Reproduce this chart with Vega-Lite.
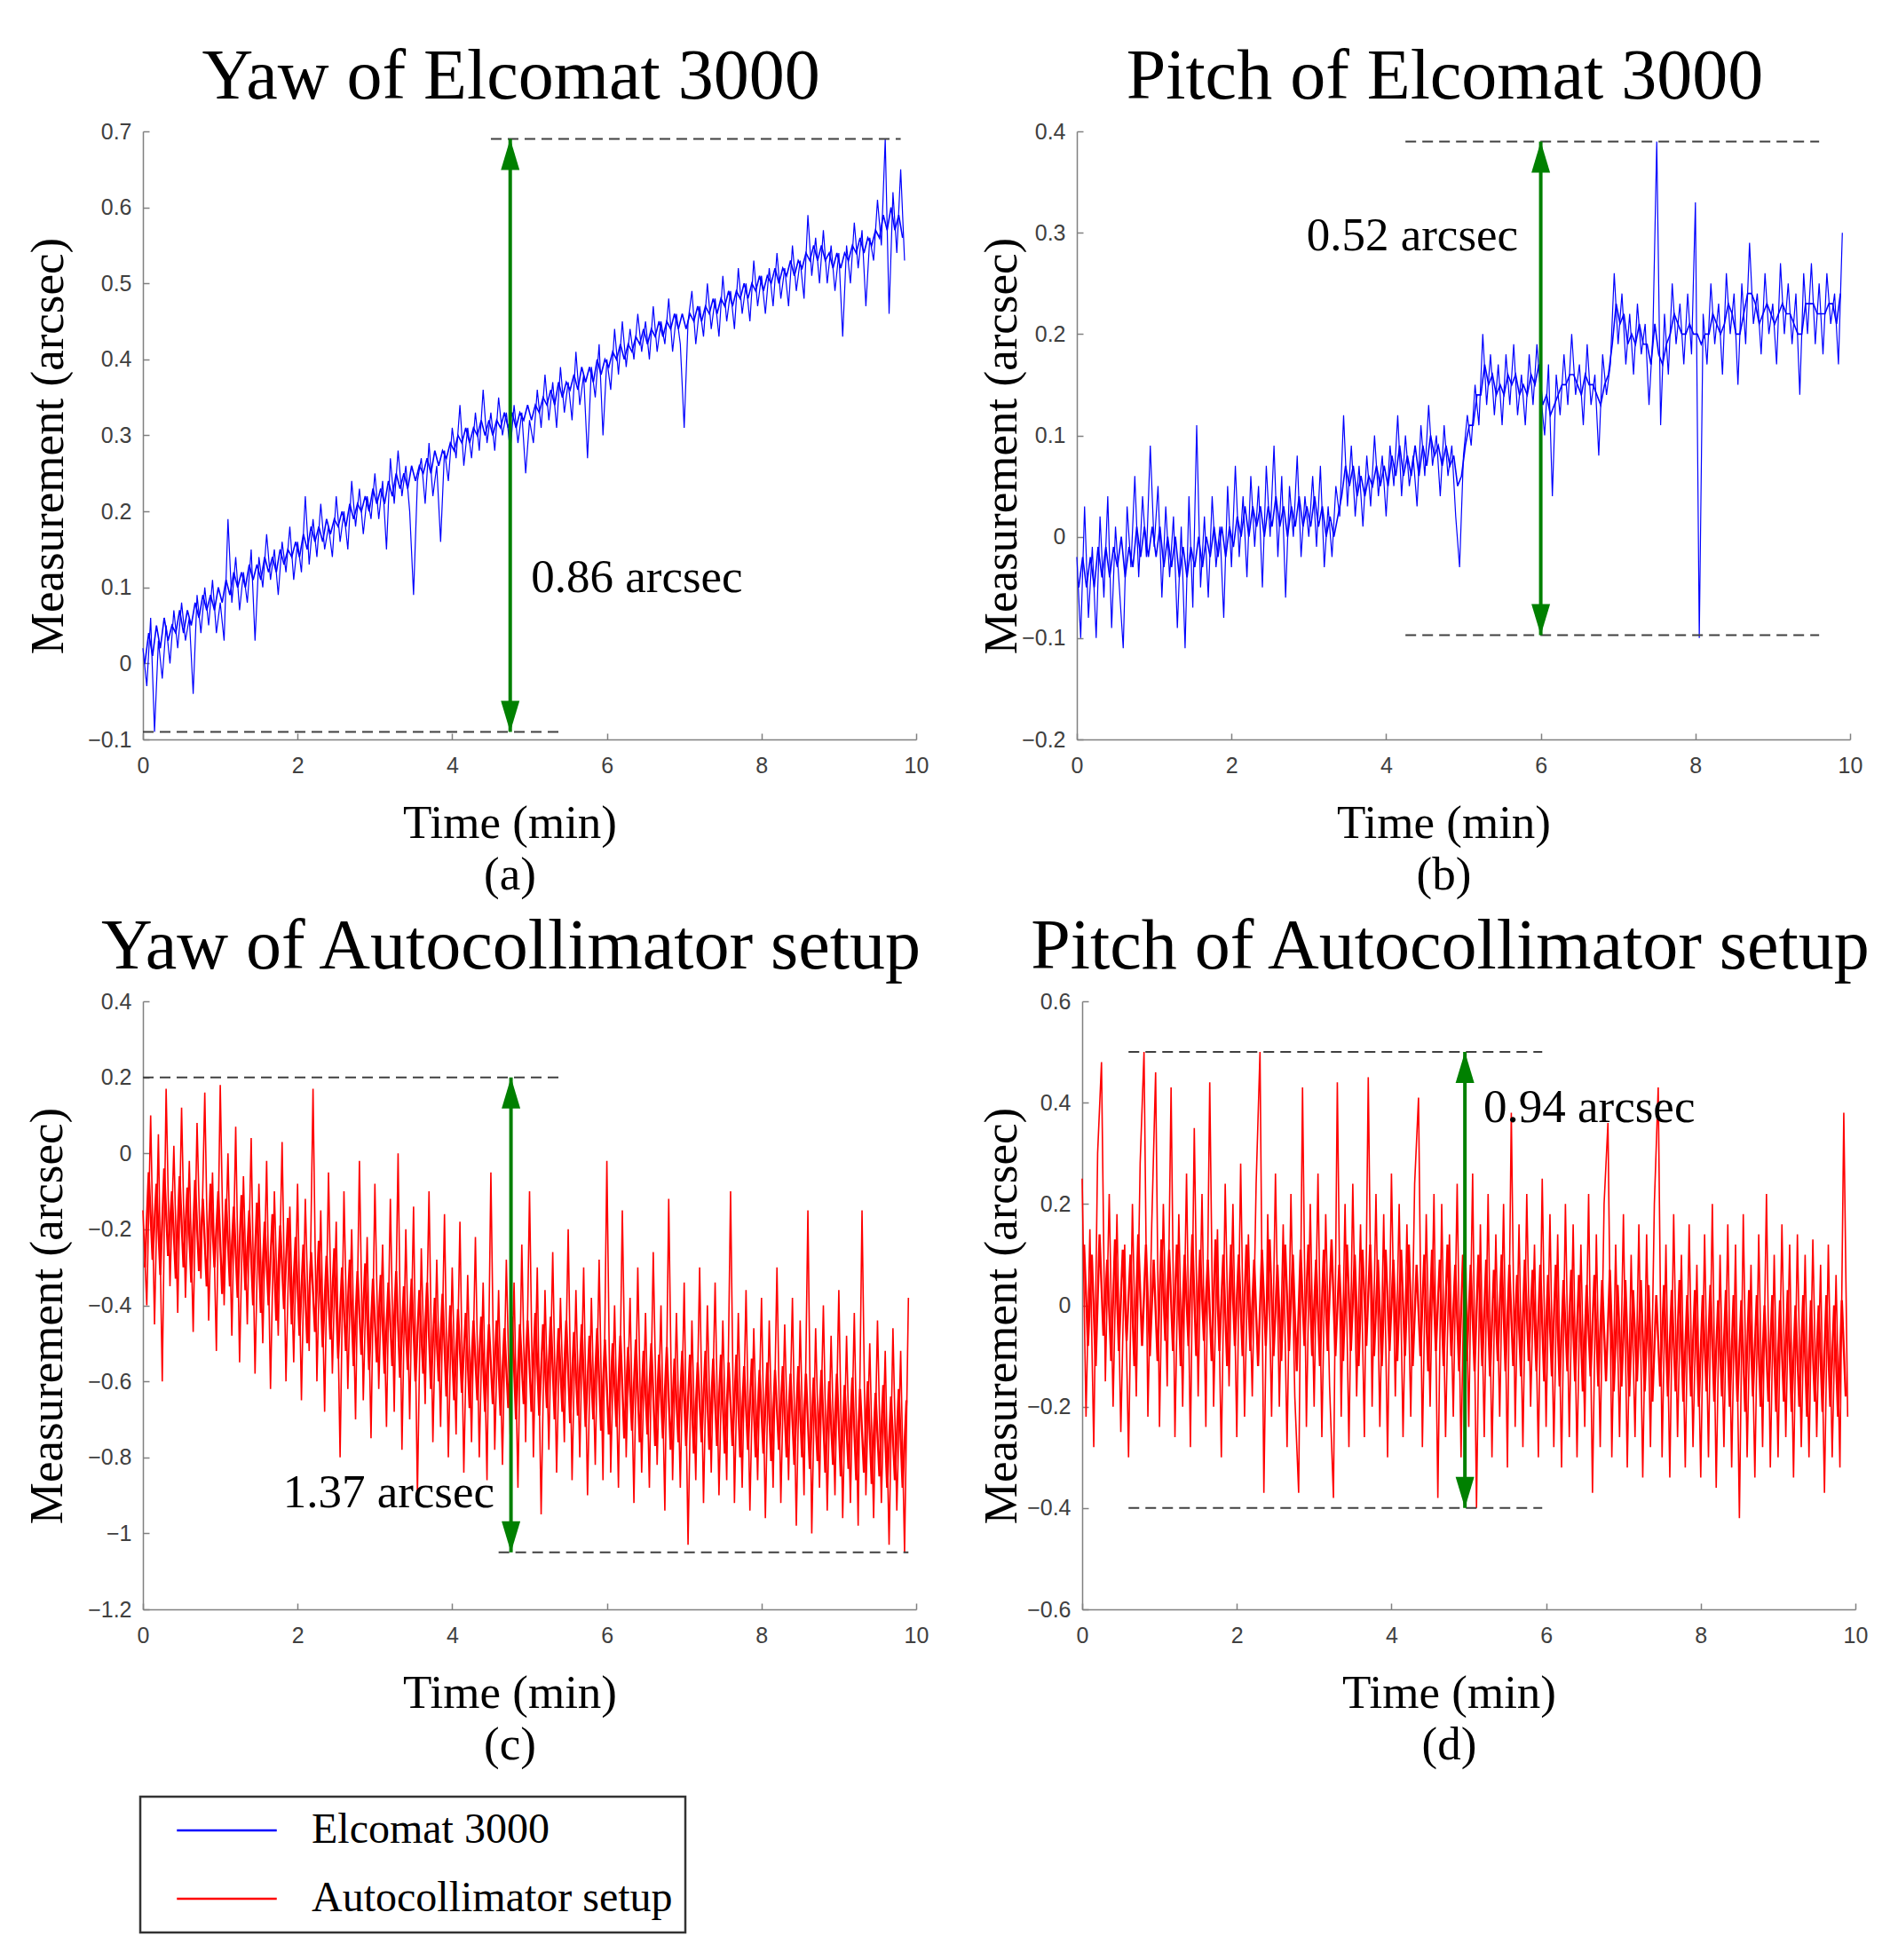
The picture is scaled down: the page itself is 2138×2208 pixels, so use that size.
{
"$schema":"https://vega.github.io/schema/vega-lite/v6.json",
"background":"white",
"padding":{"left":27,"top":47,"right":5,"bottom":5},
"datasets":{
"a":[{"t":0,"v":0.02},{"t":0.05,"v":-0.03},{"t":0.1,"v":0.06},{"t":0.15,"v":-0.09},{"t":0.2,"v":0.03},{"t":0.25,"v":-0.02},{"t":0.3,"v":0.05},{"t":0.35,"v":0.0},{"t":0.4,"v":0.07},{"t":0.45,"v":0.02},{"t":0.5,"v":0.08},{"t":0.55,"v":0.03},{"t":0.6,"v":0.06},{"t":0.65,"v":-0.04},{"t":0.7,"v":0.09},{"t":0.75,"v":0.04},{"t":0.8,"v":0.1},{"t":0.85,"v":0.05},{"t":0.9,"v":0.11},{"t":0.95,"v":0.04},{"t":1,"v":0.08},{"t":1.05,"v":0.03},{"t":1.1,"v":0.19},{"t":1.15,"v":0.08},{"t":1.2,"v":0.14},{"t":1.25,"v":0.07},{"t":1.3,"v":0.12},{"t":1.35,"v":0.08},{"t":1.4,"v":0.15},{"t":1.45,"v":0.03},{"t":1.5,"v":0.14},{"t":1.55,"v":0.1},{"t":1.6,"v":0.17},{"t":1.65,"v":0.11},{"t":1.7,"v":0.15},{"t":1.75,"v":0.09},{"t":1.8,"v":0.16},{"t":1.85,"v":0.12},{"t":1.9,"v":0.18},{"t":1.95,"v":0.11},{"t":2,"v":0.16},{"t":2.05,"v":0.12},{"t":2.1,"v":0.22},{"t":2.15,"v":0.13},{"t":2.2,"v":0.19},{"t":2.25,"v":0.14},{"t":2.3,"v":0.21},{"t":2.35,"v":0.15},{"t":2.4,"v":0.18},{"t":2.45,"v":0.14},{"t":2.5,"v":0.22},{"t":2.55,"v":0.16},{"t":2.6,"v":0.2},{"t":2.65,"v":0.15},{"t":2.7,"v":0.24},{"t":2.75,"v":0.18},{"t":2.8,"v":0.23},{"t":2.85,"v":0.17},{"t":2.9,"v":0.22},{"t":2.95,"v":0.19},{"t":3,"v":0.25},{"t":3.05,"v":0.19},{"t":3.1,"v":0.24},{"t":3.15,"v":0.15},{"t":3.2,"v":0.27},{"t":3.25,"v":0.21},{"t":3.3,"v":0.28},{"t":3.35,"v":0.22},{"t":3.4,"v":0.26},{"t":3.45,"v":0.2},{"t":3.5,"v":0.09},{"t":3.55,"v":0.24},{"t":3.6,"v":0.27},{"t":3.65,"v":0.21},{"t":3.7,"v":0.29},{"t":3.75,"v":0.22},{"t":3.8,"v":0.26},{"t":3.85,"v":0.16},{"t":3.9,"v":0.28},{"t":3.95,"v":0.24},{"t":4,"v":0.31},{"t":4.05,"v":0.27},{"t":4.1,"v":0.34},{"t":4.15,"v":0.26},{"t":4.2,"v":0.31},{"t":4.25,"v":0.27},{"t":4.3,"v":0.33},{"t":4.35,"v":0.28},{"t":4.4,"v":0.36},{"t":4.45,"v":0.29},{"t":4.5,"v":0.33},{"t":4.55,"v":0.28},{"t":4.6,"v":0.35},{"t":4.65,"v":0.3},{"t":4.7,"v":0.33},{"t":4.75,"v":0.28},{"t":4.8,"v":0.34},{"t":4.85,"v":0.29},{"t":4.9,"v":0.33},{"t":4.95,"v":0.25},{"t":5,"v":0.32},{"t":5.05,"v":0.29},{"t":5.1,"v":0.36},{"t":5.15,"v":0.31},{"t":5.2,"v":0.38},{"t":5.25,"v":0.32},{"t":5.3,"v":0.37},{"t":5.35,"v":0.31},{"t":5.4,"v":0.39},{"t":5.45,"v":0.33},{"t":5.5,"v":0.37},{"t":5.55,"v":0.32},{"t":5.6,"v":0.41},{"t":5.65,"v":0.34},{"t":5.7,"v":0.38},{"t":5.75,"v":0.27},{"t":5.8,"v":0.39},{"t":5.85,"v":0.35},{"t":5.9,"v":0.42},{"t":5.95,"v":0.3},{"t":6,"v":0.4},{"t":6.05,"v":0.36},{"t":6.1,"v":0.44},{"t":6.15,"v":0.38},{"t":6.2,"v":0.45},{"t":6.25,"v":0.39},{"t":6.3,"v":0.44},{"t":6.35,"v":0.4},{"t":6.4,"v":0.46},{"t":6.45,"v":0.41},{"t":6.5,"v":0.45},{"t":6.55,"v":0.4},{"t":6.6,"v":0.47},{"t":6.65,"v":0.41},{"t":6.7,"v":0.45},{"t":6.75,"v":0.42},{"t":6.8,"v":0.48},{"t":6.85,"v":0.41},{"t":6.9,"v":0.46},{"t":6.95,"v":0.42},{"t":7,"v":0.31},{"t":7.05,"v":0.45},{"t":7.1,"v":0.49},{"t":7.15,"v":0.42},{"t":7.2,"v":0.47},{"t":7.25,"v":0.43},{"t":7.3,"v":0.5},{"t":7.35,"v":0.44},{"t":7.4,"v":0.48},{"t":7.45,"v":0.43},{"t":7.5,"v":0.51},{"t":7.55,"v":0.45},{"t":7.6,"v":0.49},{"t":7.65,"v":0.44},{"t":7.7,"v":0.52},{"t":7.75,"v":0.46},{"t":7.8,"v":0.5},{"t":7.85,"v":0.45},{"t":7.9,"v":0.53},{"t":7.95,"v":0.47},{"t":8,"v":0.51},{"t":8.05,"v":0.46},{"t":8.1,"v":0.52},{"t":8.15,"v":0.47},{"t":8.2,"v":0.54},{"t":8.25,"v":0.48},{"t":8.3,"v":0.52},{"t":8.35,"v":0.47},{"t":8.4,"v":0.55},{"t":8.45,"v":0.49},{"t":8.5,"v":0.53},{"t":8.55,"v":0.48},{"t":8.6,"v":0.59},{"t":8.65,"v":0.51},{"t":8.7,"v":0.56},{"t":8.75,"v":0.5},{"t":8.8,"v":0.57},{"t":8.85,"v":0.5},{"t":8.9,"v":0.55},{"t":8.95,"v":0.49},{"t":9,"v":0.54},{"t":9.05,"v":0.43},{"t":9.1,"v":0.55},{"t":9.15,"v":0.5},{"t":9.2,"v":0.58},{"t":9.25,"v":0.52},{"t":9.3,"v":0.57},{"t":9.35,"v":0.47},{"t":9.4,"v":0.56},{"t":9.45,"v":0.53},{"t":9.5,"v":0.61},{"t":9.55,"v":0.55},{"t":9.6,"v":0.69},{"t":9.65,"v":0.46},{"t":9.7,"v":0.62},{"t":9.75,"v":0.54},{"t":9.8,"v":0.65},{"t":9.85,"v":0.53}],
"a2":[{"t":0.025,"v":0.0},{"t":0.075,"v":0.04},{"t":0.125,"v":0.01},{"t":0.175,"v":0.05},{"t":0.225,"v":0.02},{"t":0.275,"v":0.06},{"t":0.325,"v":0.03},{"t":0.375,"v":0.05},{"t":0.425,"v":0.04},{"t":0.475,"v":0.07},{"t":0.525,"v":0.04},{"t":0.575,"v":0.07},{"t":0.625,"v":0.05},{"t":0.675,"v":0.08},{"t":0.725,"v":0.06},{"t":0.775,"v":0.09},{"t":0.825,"v":0.07},{"t":0.875,"v":0.09},{"t":0.925,"v":0.07},{"t":0.975,"v":0.1},{"t":1.025,"v":0.08},{"t":1.075,"v":0.11},{"t":1.125,"v":0.09},{"t":1.175,"v":0.12},{"t":1.225,"v":0.1},{"t":1.275,"v":0.12},{"t":1.325,"v":0.1},{"t":1.375,"v":0.13},{"t":1.425,"v":0.11},{"t":1.475,"v":0.13},{"t":1.525,"v":0.11},{"t":1.575,"v":0.14},{"t":1.625,"v":0.12},{"t":1.675,"v":0.14},{"t":1.725,"v":0.12},{"t":1.775,"v":0.15},{"t":1.825,"v":0.13},{"t":1.875,"v":0.15},{"t":1.925,"v":0.14},{"t":1.975,"v":0.16},{"t":2.025,"v":0.14},{"t":2.075,"v":0.17},{"t":2.125,"v":0.15},{"t":2.175,"v":0.18},{"t":2.225,"v":0.16},{"t":2.275,"v":0.18},{"t":2.325,"v":0.16},{"t":2.375,"v":0.19},{"t":2.425,"v":0.17},{"t":2.475,"v":0.19},{"t":2.525,"v":0.18},{"t":2.575,"v":0.2},{"t":2.625,"v":0.18},{"t":2.675,"v":0.21},{"t":2.725,"v":0.19},{"t":2.775,"v":0.21},{"t":2.825,"v":0.2},{"t":2.875,"v":0.22},{"t":2.925,"v":0.2},{"t":2.975,"v":0.23},{"t":3.025,"v":0.21},{"t":3.075,"v":0.23},{"t":3.125,"v":0.21},{"t":3.175,"v":0.24},{"t":3.225,"v":0.22},{"t":3.275,"v":0.25},{"t":3.325,"v":0.23},{"t":3.375,"v":0.25},{"t":3.425,"v":0.23},{"t":3.475,"v":0.26},{"t":3.525,"v":0.24},{"t":3.575,"v":0.26},{"t":3.625,"v":0.25},{"t":3.675,"v":0.27},{"t":3.725,"v":0.25},{"t":3.775,"v":0.28},{"t":3.825,"v":0.26},{"t":3.875,"v":0.28},{"t":3.925,"v":0.27},{"t":3.975,"v":0.29},{"t":4.025,"v":0.28},{"t":4.075,"v":0.3},{"t":4.125,"v":0.29},{"t":4.175,"v":0.31},{"t":4.225,"v":0.29},{"t":4.275,"v":0.31},{"t":4.325,"v":0.3},{"t":4.375,"v":0.32},{"t":4.425,"v":0.3},{"t":4.475,"v":0.32},{"t":4.525,"v":0.3},{"t":4.575,"v":0.32},{"t":4.625,"v":0.31},{"t":4.675,"v":0.33},{"t":4.725,"v":0.31},{"t":4.775,"v":0.33},{"t":4.825,"v":0.31},{"t":4.875,"v":0.33},{"t":4.925,"v":0.32},{"t":4.975,"v":0.34},{"t":5.025,"v":0.32},{"t":5.075,"v":0.34},{"t":5.125,"v":0.33},{"t":5.175,"v":0.35},{"t":5.225,"v":0.34},{"t":5.275,"v":0.36},{"t":5.325,"v":0.34},{"t":5.375,"v":0.37},{"t":5.425,"v":0.35},{"t":5.475,"v":0.37},{"t":5.525,"v":0.36},{"t":5.575,"v":0.38},{"t":5.625,"v":0.36},{"t":5.675,"v":0.39},{"t":5.725,"v":0.37},{"t":5.775,"v":0.39},{"t":5.825,"v":0.37},{"t":5.875,"v":0.4},{"t":5.925,"v":0.38},{"t":5.975,"v":0.4},{"t":6.025,"v":0.39},{"t":6.075,"v":0.41},{"t":6.125,"v":0.4},{"t":6.175,"v":0.42},{"t":6.225,"v":0.4},{"t":6.275,"v":0.42},{"t":6.325,"v":0.41},{"t":6.375,"v":0.43},{"t":6.425,"v":0.42},{"t":6.475,"v":0.44},{"t":6.525,"v":0.42},{"t":6.575,"v":0.44},{"t":6.625,"v":0.43},{"t":6.675,"v":0.45},{"t":6.725,"v":0.43},{"t":6.775,"v":0.45},{"t":6.825,"v":0.44},{"t":6.875,"v":0.46},{"t":6.925,"v":0.44},{"t":6.975,"v":0.46},{"t":7.025,"v":0.44},{"t":7.075,"v":0.46},{"t":7.125,"v":0.45},{"t":7.175,"v":0.47},{"t":7.225,"v":0.45},{"t":7.275,"v":0.47},{"t":7.325,"v":0.46},{"t":7.375,"v":0.48},{"t":7.425,"v":0.46},{"t":7.475,"v":0.48},{"t":7.525,"v":0.47},{"t":7.575,"v":0.49},{"t":7.625,"v":0.47},{"t":7.675,"v":0.49},{"t":7.725,"v":0.48},{"t":7.775,"v":0.5},{"t":7.825,"v":0.48},{"t":7.875,"v":0.5},{"t":7.925,"v":0.49},{"t":7.975,"v":0.51},{"t":8.025,"v":0.49},{"t":8.075,"v":0.51},{"t":8.125,"v":0.5},{"t":8.175,"v":0.52},{"t":8.225,"v":0.5},{"t":8.275,"v":0.52},{"t":8.325,"v":0.51},{"t":8.375,"v":0.53},{"t":8.425,"v":0.51},{"t":8.475,"v":0.53},{"t":8.525,"v":0.52},{"t":8.575,"v":0.54},{"t":8.625,"v":0.53},{"t":8.675,"v":0.55},{"t":8.725,"v":0.53},{"t":8.775,"v":0.55},{"t":8.825,"v":0.53},{"t":8.875,"v":0.54},{"t":8.925,"v":0.52},{"t":8.975,"v":0.54},{"t":9.025,"v":0.52},{"t":9.075,"v":0.54},{"t":9.125,"v":0.53},{"t":9.175,"v":0.55},{"t":9.225,"v":0.54},{"t":9.275,"v":0.56},{"t":9.325,"v":0.54},{"t":9.375,"v":0.56},{"t":9.425,"v":0.55},{"t":9.475,"v":0.57},{"t":9.525,"v":0.56},{"t":9.575,"v":0.59},{"t":9.625,"v":0.57},{"t":9.675,"v":0.6},{"t":9.725,"v":0.57},{"t":9.775,"v":0.59},{"t":9.825,"v":0.56}],
"b":[{"t":0,"v":-0.02},{"t":0.05,"v":-0.1},{"t":0.1,"v":0.03},{"t":0.15,"v":-0.08},{"t":0.2,"v":-0.01},{"t":0.25,"v":-0.1},{"t":0.3,"v":0.02},{"t":0.35,"v":-0.06},{"t":0.4,"v":0.04},{"t":0.45,"v":-0.09},{"t":0.5,"v":0.01},{"t":0.55,"v":-0.05},{"t":0.6,"v":-0.11},{"t":0.65,"v":0.03},{"t":0.7,"v":-0.03},{"t":0.75,"v":0.06},{"t":0.8,"v":-0.04},{"t":0.85,"v":0.04},{"t":0.9,"v":-0.02},{"t":0.95,"v":0.09},{"t":1,"v":-0.01},{"t":1.05,"v":0.05},{"t":1.1,"v":-0.06},{"t":1.15,"v":0.03},{"t":1.2,"v":-0.04},{"t":1.25,"v":0.02},{"t":1.3,"v":-0.09},{"t":1.35,"v":0.01},{"t":1.4,"v":-0.11},{"t":1.45,"v":0.04},{"t":1.5,"v":-0.07},{"t":1.55,"v":0.11},{"t":1.6,"v":-0.05},{"t":1.65,"v":0.02},{"t":1.7,"v":-0.06},{"t":1.75,"v":0.04},{"t":1.8,"v":-0.03},{"t":1.85,"v":0.01},{"t":1.9,"v":-0.08},{"t":1.95,"v":0.05},{"t":2,"v":-0.03},{"t":2.05,"v":0.07},{"t":2.1,"v":-0.02},{"t":2.15,"v":0.04},{"t":2.2,"v":-0.04},{"t":2.25,"v":0.06},{"t":2.3,"v":-0.01},{"t":2.35,"v":0.05},{"t":2.4,"v":-0.05},{"t":2.45,"v":0.07},{"t":2.5,"v":0.0},{"t":2.55,"v":0.09},{"t":2.6,"v":-0.02},{"t":2.65,"v":0.06},{"t":2.7,"v":-0.06},{"t":2.75,"v":0.05},{"t":2.8,"v":0.0},{"t":2.85,"v":0.08},{"t":2.9,"v":-0.02},{"t":2.95,"v":0.04},{"t":3,"v":0.0},{"t":3.05,"v":0.06},{"t":3.1,"v":-0.01},{"t":3.15,"v":0.07},{"t":3.2,"v":-0.03},{"t":3.25,"v":0.03},{"t":3.3,"v":-0.02},{"t":3.35,"v":0.05},{"t":3.4,"v":0.02},{"t":3.45,"v":0.12},{"t":3.5,"v":0.03},{"t":3.55,"v":0.09},{"t":3.6,"v":0.02},{"t":3.65,"v":0.07},{"t":3.7,"v":0.01},{"t":3.75,"v":0.08},{"t":3.8,"v":0.03},{"t":3.85,"v":0.1},{"t":3.9,"v":0.04},{"t":3.95,"v":0.08},{"t":4,"v":0.02},{"t":4.05,"v":0.09},{"t":4.1,"v":0.05},{"t":4.15,"v":0.12},{"t":4.2,"v":0.04},{"t":4.25,"v":0.1},{"t":4.3,"v":0.05},{"t":4.35,"v":0.08},{"t":4.4,"v":0.03},{"t":4.45,"v":0.11},{"t":4.5,"v":0.06},{"t":4.55,"v":0.13},{"t":4.6,"v":0.07},{"t":4.65,"v":0.1},{"t":4.7,"v":0.04},{"t":4.75,"v":0.11},{"t":4.8,"v":0.06},{"t":4.85,"v":0.09},{"t":4.9,"v":0.02},{"t":4.95,"v":-0.03},{"t":5,"v":0.08},{"t":5.05,"v":0.12},{"t":5.1,"v":0.09},{"t":5.15,"v":0.15},{"t":5.2,"v":0.11},{"t":5.25,"v":0.2},{"t":5.3,"v":0.13},{"t":5.35,"v":0.18},{"t":5.4,"v":0.12},{"t":5.45,"v":0.17},{"t":5.5,"v":0.11},{"t":5.55,"v":0.18},{"t":5.6,"v":0.13},{"t":5.65,"v":0.19},{"t":5.7,"v":0.12},{"t":5.75,"v":0.16},{"t":5.8,"v":0.11},{"t":5.85,"v":0.18},{"t":5.9,"v":0.13},{"t":5.95,"v":0.19},{"t":6,"v":0.14},{"t":6.05,"v":0.1},{"t":6.1,"v":0.17},{"t":6.15,"v":0.04},{"t":6.2,"v":0.16},{"t":6.25,"v":0.12},{"t":6.3,"v":0.18},{"t":6.35,"v":0.13},{"t":6.4,"v":0.2},{"t":6.45,"v":0.14},{"t":6.5,"v":0.17},{"t":6.55,"v":0.11},{"t":6.6,"v":0.19},{"t":6.65,"v":0.13},{"t":6.7,"v":0.16},{"t":6.75,"v":0.08},{"t":6.8,"v":0.18},{"t":6.85,"v":0.14},{"t":6.9,"v":0.17},{"t":6.95,"v":0.26},{"t":7,"v":0.19},{"t":7.05,"v":0.24},{"t":7.1,"v":0.17},{"t":7.15,"v":0.22},{"t":7.2,"v":0.16},{"t":7.25,"v":0.23},{"t":7.3,"v":0.18},{"t":7.35,"v":0.21},{"t":7.4,"v":0.13},{"t":7.45,"v":0.2},{"t":7.5,"v":0.39},{"t":7.55,"v":0.11},{"t":7.6,"v":0.22},{"t":7.65,"v":0.16},{"t":7.7,"v":0.25},{"t":7.75,"v":0.19},{"t":7.8,"v":0.23},{"t":7.85,"v":0.17},{"t":7.9,"v":0.24},{"t":7.95,"v":0.18},{"t":8,"v":0.33},{"t":8.05,"v":-0.1},{"t":8.1,"v":0.22},{"t":8.15,"v":0.17},{"t":8.2,"v":0.25},{"t":8.25,"v":0.19},{"t":8.3,"v":0.23},{"t":8.35,"v":0.16},{"t":8.4,"v":0.26},{"t":8.45,"v":0.2},{"t":8.5,"v":0.24},{"t":8.55,"v":0.15},{"t":8.6,"v":0.25},{"t":8.65,"v":0.19},{"t":8.7,"v":0.29},{"t":8.75,"v":0.21},{"t":8.8,"v":0.24},{"t":8.85,"v":0.18},{"t":8.9,"v":0.26},{"t":8.95,"v":0.2},{"t":9,"v":0.23},{"t":9.05,"v":0.17},{"t":9.1,"v":0.27},{"t":9.15,"v":0.2},{"t":9.2,"v":0.25},{"t":9.25,"v":0.19},{"t":9.3,"v":0.24},{"t":9.35,"v":0.14},{"t":9.4,"v":0.26},{"t":9.45,"v":0.2},{"t":9.5,"v":0.27},{"t":9.55,"v":0.19},{"t":9.6,"v":0.25},{"t":9.65,"v":0.18},{"t":9.7,"v":0.26},{"t":9.75,"v":0.21},{"t":9.8,"v":0.24},{"t":9.85,"v":0.17},{"t":9.9,"v":0.3}],
"b2":[{"t":0.025,"v":-0.05},{"t":0.075,"v":-0.02},{"t":0.125,"v":-0.05},{"t":0.175,"v":-0.02},{"t":0.225,"v":-0.05},{"t":0.275,"v":-0.01},{"t":0.325,"v":-0.04},{"t":0.375,"v":-0.01},{"t":0.425,"v":-0.04},{"t":0.475,"v":-0.01},{"t":0.525,"v":-0.03},{"t":0.575,"v":0.0},{"t":0.625,"v":-0.04},{"t":0.675,"v":-0.01},{"t":0.725,"v":-0.03},{"t":0.775,"v":0.01},{"t":0.825,"v":-0.02},{"t":0.875,"v":0.01},{"t":0.925,"v":-0.02},{"t":0.975,"v":0.01},{"t":1.025,"v":-0.02},{"t":1.075,"v":0.01},{"t":1.125,"v":-0.03},{"t":1.175,"v":0.0},{"t":1.225,"v":-0.03},{"t":1.275,"v":0.0},{"t":1.325,"v":-0.04},{"t":1.375,"v":-0.01},{"t":1.425,"v":-0.04},{"t":1.475,"v":-0.01},{"t":1.525,"v":-0.03},{"t":1.575,"v":0.0},{"t":1.625,"v":-0.03},{"t":1.675,"v":0.0},{"t":1.725,"v":-0.02},{"t":1.775,"v":0.01},{"t":1.825,"v":-0.02},{"t":1.875,"v":0.01},{"t":1.925,"v":-0.02},{"t":1.975,"v":0.01},{"t":2.025,"v":-0.01},{"t":2.075,"v":0.02},{"t":2.125,"v":0.0},{"t":2.175,"v":0.03},{"t":2.225,"v":0.0},{"t":2.275,"v":0.03},{"t":2.325,"v":0.01},{"t":2.375,"v":0.03},{"t":2.425,"v":0.0},{"t":2.475,"v":0.03},{"t":2.525,"v":0.01},{"t":2.575,"v":0.04},{"t":2.625,"v":0.01},{"t":2.675,"v":0.03},{"t":2.725,"v":0.0},{"t":2.775,"v":0.03},{"t":2.825,"v":0.01},{"t":2.875,"v":0.04},{"t":2.925,"v":0.01},{"t":2.975,"v":0.03},{"t":3.025,"v":0.01},{"t":3.075,"v":0.04},{"t":3.125,"v":0.01},{"t":3.175,"v":0.03},{"t":3.225,"v":0.0},{"t":3.275,"v":0.02},{"t":3.325,"v":0.0},{"t":3.375,"v":0.02},{"t":3.425,"v":0.04},{"t":3.475,"v":0.07},{"t":3.525,"v":0.05},{"t":3.575,"v":0.07},{"t":3.625,"v":0.04},{"t":3.675,"v":0.06},{"t":3.725,"v":0.04},{"t":3.775,"v":0.06},{"t":3.825,"v":0.05},{"t":3.875,"v":0.07},{"t":3.925,"v":0.05},{"t":3.975,"v":0.07},{"t":4.025,"v":0.05},{"t":4.075,"v":0.08},{"t":4.125,"v":0.06},{"t":4.175,"v":0.09},{"t":4.225,"v":0.06},{"t":4.275,"v":0.08},{"t":4.325,"v":0.06},{"t":4.375,"v":0.09},{"t":4.425,"v":0.06},{"t":4.475,"v":0.09},{"t":4.525,"v":0.07},{"t":4.575,"v":0.1},{"t":4.625,"v":0.08},{"t":4.675,"v":0.09},{"t":4.725,"v":0.07},{"t":4.775,"v":0.09},{"t":4.825,"v":0.07},{"t":4.875,"v":0.08},{"t":4.925,"v":0.05},{"t":4.975,"v":0.06},{"t":5.025,"v":0.09},{"t":5.075,"v":0.11},{"t":5.125,"v":0.11},{"t":5.175,"v":0.14},{"t":5.225,"v":0.14},{"t":5.275,"v":0.17},{"t":5.325,"v":0.15},{"t":5.375,"v":0.16},{"t":5.425,"v":0.14},{"t":5.475,"v":0.15},{"t":5.525,"v":0.14},{"t":5.575,"v":0.16},{"t":5.625,"v":0.15},{"t":5.675,"v":0.16},{"t":5.725,"v":0.14},{"t":5.775,"v":0.15},{"t":5.825,"v":0.14},{"t":5.875,"v":0.16},{"t":5.925,"v":0.15},{"t":5.975,"v":0.17},{"t":6.025,"v":0.13},{"t":6.075,"v":0.14},{"t":6.125,"v":0.12},{"t":6.175,"v":0.13},{"t":6.225,"v":0.14},{"t":6.275,"v":0.15},{"t":6.325,"v":0.15},{"t":6.375,"v":0.16},{"t":6.425,"v":0.16},{"t":6.475,"v":0.15},{"t":6.525,"v":0.14},{"t":6.575,"v":0.16},{"t":6.625,"v":0.15},{"t":6.675,"v":0.15},{"t":6.725,"v":0.14},{"t":6.775,"v":0.13},{"t":6.825,"v":0.15},{"t":6.875,"v":0.16},{"t":6.925,"v":0.19},{"t":6.975,"v":0.23},{"t":7.025,"v":0.21},{"t":7.075,"v":0.22},{"t":7.125,"v":0.19},{"t":7.175,"v":0.2},{"t":7.225,"v":0.19},{"t":7.275,"v":0.21},{"t":7.325,"v":0.19},{"t":7.375,"v":0.19},{"t":7.425,"v":0.17},{"t":7.475,"v":0.21},{"t":7.525,"v":0.18},{"t":7.575,"v":0.17},{"t":7.625,"v":0.19},{"t":7.675,"v":0.2},{"t":7.725,"v":0.22},{"t":7.775,"v":0.21},{"t":7.825,"v":0.2},{"t":7.875,"v":0.2},{"t":7.925,"v":0.21},{"t":7.975,"v":0.2},{"t":8.025,"v":0.2},{"t":8.075,"v":0.19},{"t":8.125,"v":0.2},{"t":8.175,"v":0.2},{"t":8.225,"v":0.22},{"t":8.275,"v":0.21},{"t":8.325,"v":0.2},{"t":8.375,"v":0.21},{"t":8.425,"v":0.23},{"t":8.475,"v":0.22},{"t":8.525,"v":0.2},{"t":8.575,"v":0.2},{"t":8.625,"v":0.22},{"t":8.675,"v":0.24},{"t":8.725,"v":0.24},{"t":8.775,"v":0.23},{"t":8.825,"v":0.21},{"t":8.875,"v":0.22},{"t":8.925,"v":0.23},{"t":8.975,"v":0.22},{"t":9.025,"v":0.21},{"t":9.075,"v":0.22},{"t":9.125,"v":0.23},{"t":9.175,"v":0.22},{"t":9.225,"v":0.22},{"t":9.275,"v":0.21},{"t":9.325,"v":0.2},{"t":9.375,"v":0.2},{"t":9.425,"v":0.23},{"t":9.475,"v":0.23},{"t":9.525,"v":0.23},{"t":9.575,"v":0.22},{"t":9.625,"v":0.22},{"t":9.675,"v":0.22},{"t":9.725,"v":0.23},{"t":9.775,"v":0.23},{"t":9.825,"v":0.21},{"t":9.875,"v":0.24}],
"c":[{"t":0,"v":-0.15},{"t":0.05,"v":-0.4},{"t":0.1,"v":0.1},{"t":0.15,"v":-0.45},{"t":0.2,"v":0.05},{"t":0.25,"v":-0.6},{"t":0.3,"v":0.17},{"t":0.35,"v":-0.35},{"t":0.4,"v":0.02},{"t":0.45,"v":-0.42},{"t":0.5,"v":0.12},{"t":0.55,"v":-0.38},{"t":0.6,"v":-0.02},{"t":0.65,"v":-0.47},{"t":0.7,"v":0.08},{"t":0.75,"v":-0.33},{"t":0.8,"v":0.16},{"t":0.85,"v":-0.44},{"t":0.9,"v":-0.05},{"t":0.95,"v":-0.52},{"t":1,"v":0.18},{"t":1.05,"v":-0.4},{"t":1.1,"v":0.0},{"t":1.15,"v":-0.48},{"t":1.2,"v":0.07},{"t":1.25,"v":-0.55},{"t":1.3,"v":-0.06},{"t":1.35,"v":-0.45},{"t":1.4,"v":0.04},{"t":1.45,"v":-0.58},{"t":1.5,"v":-0.08},{"t":1.55,"v":-0.5},{"t":1.6,"v":-0.02},{"t":1.65,"v":-0.62},{"t":1.7,"v":-0.1},{"t":1.75,"v":-0.48},{"t":1.8,"v":0.03},{"t":1.85,"v":-0.6},{"t":1.9,"v":-0.14},{"t":1.95,"v":-0.55},{"t":2,"v":-0.08},{"t":2.05,"v":-0.65},{"t":2.1,"v":-0.12},{"t":2.15,"v":-0.52},{"t":2.2,"v":0.17},{"t":2.25,"v":-0.6},{"t":2.3,"v":-0.15},{"t":2.35,"v":-0.68},{"t":2.4,"v":-0.05},{"t":2.45,"v":-0.58},{"t":2.5,"v":-0.18},{"t":2.55,"v":-0.8},{"t":2.6,"v":-0.1},{"t":2.65,"v":-0.62},{"t":2.7,"v":-0.2},{"t":2.75,"v":-0.7},{"t":2.8,"v":-0.02},{"t":2.85,"v":-0.65},{"t":2.9,"v":-0.22},{"t":2.95,"v":-0.75},{"t":3,"v":-0.08},{"t":3.05,"v":-0.62},{"t":3.1,"v":-0.24},{"t":3.15,"v":-0.72},{"t":3.2,"v":-0.12},{"t":3.25,"v":-0.68},{"t":3.3,"v":0.0},{"t":3.35,"v":-0.78},{"t":3.4,"v":-0.2},{"t":3.45,"v":-0.7},{"t":3.5,"v":-0.14},{"t":3.55,"v":-0.9},{"t":3.6,"v":-0.25},{"t":3.65,"v":-0.66},{"t":3.7,"v":-0.1},{"t":3.75,"v":-0.76},{"t":3.8,"v":-0.28},{"t":3.85,"v":-0.72},{"t":3.9,"v":-0.16},{"t":3.95,"v":-0.8},{"t":4,"v":-0.3},{"t":4.05,"v":-0.74},{"t":4.1,"v":-0.18},{"t":4.15,"v":-0.84},{"t":4.2,"v":-0.32},{"t":4.25,"v":-0.76},{"t":4.3,"v":-0.22},{"t":4.35,"v":-0.8},{"t":4.4,"v":-0.34},{"t":4.45,"v":-0.86},{"t":4.5,"v":-0.05},{"t":4.55,"v":-0.78},{"t":4.6,"v":-0.36},{"t":4.65,"v":-0.82},{"t":4.7,"v":-0.28},{"t":4.75,"v":-0.74},{"t":4.8,"v":-0.34},{"t":4.85,"v":-0.88},{"t":4.9,"v":-0.24},{"t":4.95,"v":-0.76},{"t":5,"v":-0.1},{"t":5.05,"v":-0.8},{"t":5.1,"v":-0.3},{"t":5.15,"v":-0.95},{"t":5.2,"v":-0.36},{"t":5.25,"v":-0.78},{"t":5.3,"v":-0.26},{"t":5.35,"v":-0.84},{"t":5.4,"v":-0.38},{"t":5.45,"v":-0.76},{"t":5.5,"v":-0.2},{"t":5.55,"v":-0.86},{"t":5.6,"v":-0.36},{"t":5.65,"v":-0.8},{"t":5.7,"v":-0.3},{"t":5.75,"v":-0.9},{"t":5.8,"v":-0.38},{"t":5.85,"v":-0.82},{"t":5.9,"v":-0.28},{"t":5.95,"v":-0.86},{"t":6,"v":-0.02},{"t":6.05,"v":-0.84},{"t":6.1,"v":-0.4},{"t":6.15,"v":-0.88},{"t":6.2,"v":-0.15},{"t":6.25,"v":-0.8},{"t":6.3,"v":-0.38},{"t":6.35,"v":-0.92},{"t":6.4,"v":-0.3},{"t":6.45,"v":-0.84},{"t":6.5,"v":-0.42},{"t":6.55,"v":-0.88},{"t":6.6,"v":-0.26},{"t":6.65,"v":-0.82},{"t":6.7,"v":-0.4},{"t":6.75,"v":-0.94},{"t":6.8,"v":-0.12},{"t":6.85,"v":-0.86},{"t":6.9,"v":-0.42},{"t":6.95,"v":-0.88},{"t":7,"v":-0.34},{"t":7.05,"v":-1.03},{"t":7.1,"v":-0.44},{"t":7.15,"v":-0.86},{"t":7.2,"v":-0.3},{"t":7.25,"v":-0.92},{"t":7.3,"v":-0.4},{"t":7.35,"v":-0.84},{"t":7.4,"v":-0.34},{"t":7.45,"v":-0.9},{"t":7.5,"v":-0.44},{"t":7.55,"v":-0.86},{"t":7.6,"v":-0.1},{"t":7.65,"v":-0.92},{"t":7.7,"v":-0.42},{"t":7.75,"v":-0.88},{"t":7.8,"v":-0.36},{"t":7.85,"v":-0.94},{"t":7.9,"v":-0.46},{"t":7.95,"v":-0.86},{"t":8,"v":-0.38},{"t":8.05,"v":-0.96},{"t":8.1,"v":-0.44},{"t":8.15,"v":-0.88},{"t":8.2,"v":-0.3},{"t":8.25,"v":-0.92},{"t":8.3,"v":-0.45},{"t":8.35,"v":-0.86},{"t":8.4,"v":-0.38},{"t":8.45,"v":-0.98},{"t":8.5,"v":-0.44},{"t":8.55,"v":-0.9},{"t":8.6,"v":-0.15},{"t":8.65,"v":-1.0},{"t":8.7,"v":-0.46},{"t":8.75,"v":-0.88},{"t":8.8,"v":-0.4},{"t":8.85,"v":-0.94},{"t":8.9,"v":-0.48},{"t":8.95,"v":-0.9},{"t":9,"v":-0.36},{"t":9.05,"v":-0.96},{"t":9.1,"v":-0.48},{"t":9.15,"v":-0.92},{"t":9.2,"v":-0.42},{"t":9.25,"v":-0.98},{"t":9.3,"v":-0.15},{"t":9.35,"v":-0.9},{"t":9.4,"v":-0.5},{"t":9.45,"v":-0.96},{"t":9.5,"v":-0.44},{"t":9.55,"v":-0.92},{"t":9.6,"v":-0.52},{"t":9.65,"v":-1.03},{"t":9.7,"v":-0.46},{"t":9.75,"v":-0.94},{"t":9.8,"v":-0.52},{"t":9.85,"v":-1.05},{"t":9.9,"v":-0.38}],
"c2":[{"t":0.025,"v":-0.3},{"t":0.075,"v":-0.05},{"t":0.125,"v":-0.28},{"t":0.175,"v":-0.08},{"t":0.225,"v":-0.32},{"t":0.275,"v":-0.04},{"t":0.325,"v":-0.27},{"t":0.375,"v":-0.1},{"t":0.425,"v":-0.33},{"t":0.475,"v":-0.06},{"t":0.525,"v":-0.3},{"t":0.575,"v":-0.09},{"t":0.625,"v":-0.34},{"t":0.675,"v":-0.07},{"t":0.725,"v":-0.31},{"t":0.775,"v":-0.12},{"t":0.825,"v":-0.35},{"t":0.875,"v":-0.08},{"t":0.925,"v":-0.3},{"t":0.975,"v":-0.1},{"t":1.025,"v":-0.37},{"t":1.075,"v":-0.12},{"t":1.125,"v":-0.35},{"t":1.175,"v":-0.14},{"t":1.225,"v":-0.38},{"t":1.275,"v":-0.11},{"t":1.325,"v":-0.36},{"t":1.375,"v":-0.15},{"t":1.425,"v":-0.4},{"t":1.475,"v":-0.13},{"t":1.525,"v":-0.42},{"t":1.575,"v":-0.18},{"t":1.625,"v":-0.4},{"t":1.675,"v":-0.16},{"t":1.725,"v":-0.44},{"t":1.775,"v":-0.19},{"t":1.825,"v":-0.41},{"t":1.875,"v":-0.17},{"t":1.925,"v":-0.45},{"t":1.975,"v":-0.22},{"t":2.025,"v":-0.48},{"t":2.075,"v":-0.24},{"t":2.125,"v":-0.5},{"t":2.175,"v":-0.26},{"t":2.225,"v":-0.47},{"t":2.275,"v":-0.23},{"t":2.325,"v":-0.51},{"t":2.375,"v":-0.27},{"t":2.425,"v":-0.49},{"t":2.475,"v":-0.25},{"t":2.525,"v":-0.54},{"t":2.575,"v":-0.3},{"t":2.625,"v":-0.52},{"t":2.675,"v":-0.28},{"t":2.725,"v":-0.56},{"t":2.775,"v":-0.31},{"t":2.825,"v":-0.53},{"t":2.875,"v":-0.29},{"t":2.925,"v":-0.57},{"t":2.975,"v":-0.33},{"t":3.025,"v":-0.55},{"t":3.075,"v":-0.32},{"t":3.125,"v":-0.58},{"t":3.175,"v":-0.34},{"t":3.225,"v":-0.56},{"t":3.275,"v":-0.31},{"t":3.325,"v":-0.59},{"t":3.375,"v":-0.35},{"t":3.425,"v":-0.57},{"t":3.475,"v":-0.33},{"t":3.525,"v":-0.6},{"t":3.575,"v":-0.36},{"t":3.625,"v":-0.58},{"t":3.675,"v":-0.34},{"t":3.725,"v":-0.62},{"t":3.775,"v":-0.38},{"t":3.825,"v":-0.6},{"t":3.875,"v":-0.37},{"t":3.925,"v":-0.64},{"t":3.975,"v":-0.4},{"t":4.025,"v":-0.65},{"t":4.075,"v":-0.41},{"t":4.125,"v":-0.63},{"t":4.175,"v":-0.42},{"t":4.225,"v":-0.67},{"t":4.275,"v":-0.44},{"t":4.325,"v":-0.65},{"t":4.375,"v":-0.43},{"t":4.425,"v":-0.68},{"t":4.475,"v":-0.45},{"t":4.525,"v":-0.66},{"t":4.575,"v":-0.44},{"t":4.625,"v":-0.69},{"t":4.675,"v":-0.46},{"t":4.725,"v":-0.67},{"t":4.775,"v":-0.43},{"t":4.825,"v":-0.7},{"t":4.875,"v":-0.45},{"t":4.925,"v":-0.66},{"t":4.975,"v":-0.44},{"t":5.025,"v":-0.68},{"t":5.075,"v":-0.42},{"t":5.125,"v":-0.69},{"t":5.175,"v":-0.45},{"t":5.225,"v":-0.67},{"t":5.275,"v":-0.43},{"t":5.325,"v":-0.7},{"t":5.375,"v":-0.46},{"t":5.425,"v":-0.68},{"t":5.475,"v":-0.44},{"t":5.525,"v":-0.71},{"t":5.575,"v":-0.47},{"t":5.625,"v":-0.69},{"t":5.675,"v":-0.45},{"t":5.725,"v":-0.72},{"t":5.775,"v":-0.48},{"t":5.825,"v":-0.7},{"t":5.875,"v":-0.46},{"t":5.925,"v":-0.73},{"t":5.975,"v":-0.49},{"t":6.025,"v":-0.74},{"t":6.075,"v":-0.5},{"t":6.125,"v":-0.72},{"t":6.175,"v":-0.48},{"t":6.225,"v":-0.75},{"t":6.275,"v":-0.51},{"t":6.325,"v":-0.73},{"t":6.375,"v":-0.49},{"t":6.425,"v":-0.76},{"t":6.475,"v":-0.52},{"t":6.525,"v":-0.74},{"t":6.575,"v":-0.5},{"t":6.625,"v":-0.77},{"t":6.675,"v":-0.53},{"t":6.725,"v":-0.75},{"t":6.775,"v":-0.51},{"t":6.825,"v":-0.78},{"t":6.875,"v":-0.54},{"t":6.925,"v":-0.76},{"t":6.975,"v":-0.52},{"t":7.025,"v":-0.77},{"t":7.075,"v":-0.53},{"t":7.125,"v":-0.79},{"t":7.175,"v":-0.55},{"t":7.225,"v":-0.76},{"t":7.275,"v":-0.52},{"t":7.325,"v":-0.78},{"t":7.375,"v":-0.54},{"t":7.425,"v":-0.77},{"t":7.475,"v":-0.53},{"t":7.525,"v":-0.79},{"t":7.575,"v":-0.55},{"t":7.625,"v":-0.77},{"t":7.675,"v":-0.53},{"t":7.725,"v":-0.8},{"t":7.775,"v":-0.56},{"t":7.825,"v":-0.78},{"t":7.875,"v":-0.54},{"t":7.925,"v":-0.8},{"t":7.975,"v":-0.57},{"t":8.025,"v":-0.79},{"t":8.075,"v":-0.55},{"t":8.125,"v":-0.81},{"t":8.175,"v":-0.57},{"t":8.225,"v":-0.78},{"t":8.275,"v":-0.56},{"t":8.325,"v":-0.8},{"t":8.375,"v":-0.58},{"t":8.425,"v":-0.82},{"t":8.475,"v":-0.56},{"t":8.525,"v":-0.8},{"t":8.575,"v":-0.58},{"t":8.625,"v":-0.83},{"t":8.675,"v":-0.59},{"t":8.725,"v":-0.81},{"t":8.775,"v":-0.57},{"t":8.825,"v":-0.84},{"t":8.875,"v":-0.6},{"t":8.925,"v":-0.82},{"t":8.975,"v":-0.58},{"t":9.025,"v":-0.85},{"t":9.075,"v":-0.61},{"t":9.125,"v":-0.83},{"t":9.175,"v":-0.59},{"t":9.225,"v":-0.86},{"t":9.275,"v":-0.62},{"t":9.325,"v":-0.84},{"t":9.375,"v":-0.6},{"t":9.425,"v":-0.87},{"t":9.475,"v":-0.63},{"t":9.525,"v":-0.85},{"t":9.575,"v":-0.61},{"t":9.625,"v":-0.88},{"t":9.675,"v":-0.64},{"t":9.725,"v":-0.86},{"t":9.775,"v":-0.62},{"t":9.825,"v":-0.88},{"t":9.875,"v":-0.65}],
"d":[{"t":0,"v":0.25},{"t":0.05,"v":-0.22},{"t":0.1,"v":0.15},{"t":0.15,"v":-0.28},{"t":0.2,"v":0.3},{"t":0.25,"v":0.48},{"t":0.3,"v":-0.15},{"t":0.35,"v":0.22},{"t":0.4,"v":-0.2},{"t":0.45,"v":0.18},{"t":0.5,"v":-0.25},{"t":0.55,"v":0.12},{"t":0.6,"v":-0.3},{"t":0.65,"v":0.2},{"t":0.7,"v":-0.18},{"t":0.75,"v":0.28},{"t":0.8,"v":0.5},{"t":0.85,"v":-0.22},{"t":0.9,"v":0.16},{"t":0.95,"v":0.46},{"t":1,"v":-0.24},{"t":1.05,"v":0.2},{"t":1.1,"v":-0.16},{"t":1.15,"v":0.43},{"t":1.2,"v":-0.26},{"t":1.25,"v":0.18},{"t":1.3,"v":-0.2},{"t":1.35,"v":0.26},{"t":1.4,"v":-0.28},{"t":1.45,"v":0.35},{"t":1.5,"v":-0.18},{"t":1.55,"v":0.22},{"t":1.6,"v":-0.24},{"t":1.65,"v":0.44},{"t":1.7,"v":-0.2},{"t":1.75,"v":0.15},{"t":1.8,"v":-0.3},{"t":1.85,"v":0.24},{"t":1.9,"v":-0.16},{"t":1.95,"v":0.2},{"t":2,"v":-0.26},{"t":2.05,"v":0.28},{"t":2.1,"v":-0.22},{"t":2.15,"v":0.14},{"t":2.2,"v":-0.18},{"t":2.25,"v":0.24},{"t":2.3,"v":0.5},{"t":2.35,"v":-0.37},{"t":2.4,"v":0.18},{"t":2.45,"v":-0.22},{"t":2.5,"v":0.26},{"t":2.55,"v":-0.2},{"t":2.6,"v":0.16},{"t":2.65,"v":-0.28},{"t":2.7,"v":0.22},{"t":2.75,"v":-0.18},{"t":2.8,"v":-0.37},{"t":2.85,"v":0.43},{"t":2.9,"v":-0.24},{"t":2.95,"v":0.2},{"t":3,"v":-0.2},{"t":3.05,"v":0.26},{"t":3.1,"v":-0.26},{"t":3.15,"v":0.18},{"t":3.2,"v":-0.16},{"t":3.25,"v":-0.38},{"t":3.3,"v":0.44},{"t":3.35,"v":-0.22},{"t":3.4,"v":0.2},{"t":3.45,"v":-0.28},{"t":3.5,"v":0.24},{"t":3.55,"v":-0.18},{"t":3.6,"v":0.16},{"t":3.65,"v":-0.26},{"t":3.7,"v":0.45},{"t":3.75,"v":-0.2},{"t":3.8,"v":0.22},{"t":3.85,"v":-0.24},{"t":3.9,"v":0.18},{"t":3.95,"v":-0.3},{"t":4,"v":0.26},{"t":4.05,"v":-0.18},{"t":4.1,"v":0.2},{"t":4.15,"v":-0.26},{"t":4.2,"v":0.16},{"t":4.25,"v":-0.22},{"t":4.3,"v":0.24},{"t":4.35,"v":0.41},{"t":4.4,"v":-0.28},{"t":4.45,"v":0.18},{"t":4.5,"v":-0.2},{"t":4.55,"v":0.22},{"t":4.6,"v":-0.38},{"t":4.65,"v":0.2},{"t":4.7,"v":-0.26},{"t":4.75,"v":0.14},{"t":4.8,"v":-0.22},{"t":4.85,"v":0.24},{"t":4.9,"v":-0.3},{"t":4.95,"v":0.18},{"t":5,"v":-0.24},{"t":5.05,"v":0.26},{"t":5.1,"v":-0.4},{"t":5.15,"v":0.16},{"t":5.2,"v":-0.26},{"t":5.25,"v":0.22},{"t":5.3,"v":-0.3},{"t":5.35,"v":0.14},{"t":5.4,"v":-0.22},{"t":5.45,"v":0.2},{"t":5.5,"v":-0.32},{"t":5.55,"v":0.38},{"t":5.6,"v":-0.24},{"t":5.65,"v":0.16},{"t":5.7,"v":-0.28},{"t":5.75,"v":0.22},{"t":5.8,"v":-0.2},{"t":5.85,"v":0.12},{"t":5.9,"v":-0.3},{"t":5.95,"v":0.25},{"t":6,"v":-0.24},{"t":6.05,"v":0.18},{"t":6.1,"v":-0.28},{"t":6.15,"v":0.14},{"t":6.2,"v":-0.32},{"t":6.25,"v":0.2},{"t":6.3,"v":-0.26},{"t":6.35,"v":0.16},{"t":6.4,"v":-0.3},{"t":6.45,"v":0.12},{"t":6.5,"v":-0.24},{"t":6.55,"v":0.22},{"t":6.6,"v":-0.37},{"t":6.65,"v":0.14},{"t":6.7,"v":-0.28},{"t":6.75,"v":0.2},{"t":6.8,"v":0.36},{"t":6.85,"v":-0.3},{"t":6.9,"v":0.12},{"t":6.95,"v":-0.26},{"t":7,"v":0.18},{"t":7.05,"v":-0.32},{"t":7.1,"v":0.1},{"t":7.15,"v":-0.26},{"t":7.2,"v":0.16},{"t":7.25,"v":-0.34},{"t":7.3,"v":0.14},{"t":7.35,"v":-0.28},{"t":7.4,"v":0.2},{"t":7.45,"v":0.43},{"t":7.5,"v":-0.3},{"t":7.55,"v":0.12},{"t":7.6,"v":-0.34},{"t":7.65,"v":0.18},{"t":7.7,"v":-0.26},{"t":7.75,"v":0.1},{"t":7.8,"v":-0.32},{"t":7.85,"v":0.16},{"t":7.9,"v":-0.28},{"t":7.95,"v":0.08},{"t":8,"v":-0.34},{"t":8.05,"v":0.14},{"t":8.1,"v":-0.3},{"t":8.15,"v":0.2},{"t":8.2,"v":-0.36},{"t":8.25,"v":0.1},{"t":8.3,"v":-0.28},{"t":8.35,"v":0.16},{"t":8.4,"v":-0.32},{"t":8.45,"v":0.12},{"t":8.5,"v":-0.42},{"t":8.55,"v":0.18},{"t":8.6,"v":-0.3},{"t":8.65,"v":0.08},{"t":8.7,"v":-0.34},{"t":8.75,"v":0.14},{"t":8.8,"v":-0.28},{"t":8.85,"v":0.22},{"t":8.9,"v":-0.32},{"t":8.95,"v":0.1},{"t":9,"v":-0.3},{"t":9.05,"v":0.16},{"t":9.1,"v":-0.26},{"t":9.15,"v":0.12},{"t":9.2,"v":-0.34},{"t":9.25,"v":0.14},{"t":9.3,"v":-0.28},{"t":9.35,"v":0.1},{"t":9.4,"v":-0.3},{"t":9.45,"v":0.13},{"t":9.5,"v":-0.26},{"t":9.55,"v":0.08},{"t":9.6,"v":-0.37},{"t":9.65,"v":0.12},{"t":9.7,"v":-0.3},{"t":9.75,"v":0.06},{"t":9.8,"v":-0.32},{"t":9.85,"v":0.38},{"t":9.9,"v":-0.22}],
"d2":[{"t":0.025,"v":0.12},{"t":0.075,"v":-0.08},{"t":0.125,"v":0.1},{"t":0.175,"v":-0.12},{"t":0.225,"v":0.14},{"t":0.275,"v":-0.06},{"t":0.325,"v":0.09},{"t":0.375,"v":-0.11},{"t":0.425,"v":0.13},{"t":0.475,"v":-0.09},{"t":0.525,"v":0.11},{"t":0.575,"v":-0.07},{"t":0.625,"v":0.1},{"t":0.675,"v":-0.12},{"t":0.725,"v":0.14},{"t":0.775,"v":-0.08},{"t":0.825,"v":0.12},{"t":0.875,"v":-0.1},{"t":0.925,"v":0.09},{"t":0.975,"v":-0.11},{"t":1.025,"v":0.13},{"t":1.075,"v":-0.07},{"t":1.125,"v":0.11},{"t":1.175,"v":-0.09},{"t":1.225,"v":0.12},{"t":1.275,"v":-0.12},{"t":1.325,"v":0.1},{"t":1.375,"v":-0.08},{"t":1.425,"v":0.14},{"t":1.475,"v":-0.1},{"t":1.525,"v":0.11},{"t":1.575,"v":-0.07},{"t":1.625,"v":0.09},{"t":1.675,"v":-0.11},{"t":1.725,"v":0.13},{"t":1.775,"v":-0.09},{"t":1.825,"v":0.1},{"t":1.875,"v":-0.12},{"t":1.925,"v":0.12},{"t":1.975,"v":-0.08},{"t":2.025,"v":0.1},{"t":2.075,"v":-0.1},{"t":2.125,"v":0.12},{"t":2.175,"v":-0.09},{"t":2.225,"v":0.09},{"t":2.275,"v":-0.12},{"t":2.325,"v":0.11},{"t":2.375,"v":-0.08},{"t":2.425,"v":0.13},{"t":2.475,"v":-0.1},{"t":2.525,"v":0.08},{"t":2.575,"v":-0.11},{"t":2.625,"v":0.12},{"t":2.675,"v":-0.09},{"t":2.725,"v":0.1},{"t":2.775,"v":-0.13},{"t":2.825,"v":0.11},{"t":2.875,"v":-0.08},{"t":2.925,"v":0.12},{"t":2.975,"v":-0.1},{"t":3.025,"v":0.09},{"t":3.075,"v":-0.12},{"t":3.125,"v":0.11},{"t":3.175,"v":-0.09},{"t":3.225,"v":0.13},{"t":3.275,"v":-0.1},{"t":3.325,"v":0.08},{"t":3.375,"v":-0.11},{"t":3.425,"v":0.12},{"t":3.475,"v":-0.09},{"t":3.525,"v":0.1},{"t":3.575,"v":-0.12},{"t":3.625,"v":0.11},{"t":3.675,"v":-0.08},{"t":3.725,"v":0.12},{"t":3.775,"v":-0.1},{"t":3.825,"v":0.09},{"t":3.875,"v":-0.12},{"t":3.925,"v":0.11},{"t":3.975,"v":-0.09},{"t":4.025,"v":0.09},{"t":4.075,"v":-0.11},{"t":4.125,"v":0.11},{"t":4.175,"v":-0.1},{"t":4.225,"v":0.12},{"t":4.275,"v":-0.12},{"t":4.325,"v":0.08},{"t":4.375,"v":-0.1},{"t":4.425,"v":0.1},{"t":4.475,"v":-0.13},{"t":4.525,"v":0.11},{"t":4.575,"v":-0.09},{"t":4.625,"v":0.09},{"t":4.675,"v":-0.12},{"t":4.725,"v":0.12},{"t":4.775,"v":-0.1},{"t":4.825,"v":0.08},{"t":4.875,"v":-0.13},{"t":4.925,"v":0.1},{"t":4.975,"v":-0.11},{"t":5.025,"v":0.08},{"t":5.075,"v":-0.13},{"t":5.125,"v":0.1},{"t":5.175,"v":-0.12},{"t":5.225,"v":0.09},{"t":5.275,"v":-0.14},{"t":5.325,"v":0.07},{"t":5.375,"v":-0.11},{"t":5.425,"v":0.1},{"t":5.475,"v":-0.13},{"t":5.525,"v":0.08},{"t":5.575,"v":-0.12},{"t":5.625,"v":0.06},{"t":5.675,"v":-0.14},{"t":5.725,"v":0.09},{"t":5.775,"v":-0.11},{"t":5.825,"v":0.07},{"t":5.875,"v":-0.13},{"t":5.925,"v":0.08},{"t":5.975,"v":-0.15},{"t":6.025,"v":0.06},{"t":6.075,"v":-0.14},{"t":6.125,"v":0.08},{"t":6.175,"v":-0.16},{"t":6.225,"v":0.05},{"t":6.275,"v":-0.13},{"t":6.325,"v":0.07},{"t":6.375,"v":-0.15},{"t":6.425,"v":0.06},{"t":6.475,"v":-0.17},{"t":6.525,"v":0.04},{"t":6.575,"v":-0.14},{"t":6.625,"v":0.06},{"t":6.675,"v":-0.16},{"t":6.725,"v":0.05},{"t":6.775,"v":-0.15},{"t":6.825,"v":0.07},{"t":6.875,"v":-0.17},{"t":6.925,"v":0.04},{"t":6.975,"v":-0.16},{"t":7.025,"v":0.05},{"t":7.075,"v":-0.18},{"t":7.125,"v":0.03},{"t":7.175,"v":-0.15},{"t":7.225,"v":0.05},{"t":7.275,"v":-0.17},{"t":7.325,"v":0.04},{"t":7.375,"v":-0.19},{"t":7.425,"v":0.02},{"t":7.475,"v":-0.16},{"t":7.525,"v":0.04},{"t":7.575,"v":-0.18},{"t":7.625,"v":0.03},{"t":7.675,"v":-0.17},{"t":7.725,"v":0.05},{"t":7.775,"v":-0.19},{"t":7.825,"v":0.02},{"t":7.875,"v":-0.18},{"t":7.925,"v":0.03},{"t":7.975,"v":-0.2},{"t":8.025,"v":0.02},{"t":8.075,"v":-0.17},{"t":8.125,"v":0.04},{"t":8.175,"v":-0.19},{"t":8.225,"v":0.01},{"t":8.275,"v":-0.18},{"t":8.325,"v":0.03},{"t":8.375,"v":-0.2},{"t":8.425,"v":0.02},{"t":8.475,"v":-0.19},{"t":8.525,"v":0.01},{"t":8.575,"v":-0.21},{"t":8.625,"v":0.03},{"t":8.675,"v":-0.18},{"t":8.725,"v":0.02},{"t":8.775,"v":-0.2},{"t":8.825,"v":0.0},{"t":8.875,"v":-0.19},{"t":8.925,"v":0.02},{"t":8.975,"v":-0.21},{"t":9.025,"v":0.01},{"t":9.075,"v":-0.19},{"t":9.125,"v":0.03},{"t":9.175,"v":-0.21},{"t":9.225,"v":0.0},{"t":9.275,"v":-0.2},{"t":9.325,"v":0.02},{"t":9.375,"v":-0.22},{"t":9.425,"v":0.01},{"t":9.475,"v":-0.19},{"t":9.525,"v":0.0},{"t":9.575,"v":-0.21},{"t":9.625,"v":0.02},{"t":9.675,"v":-0.2},{"t":9.725,"v":0.0},{"t":9.775,"v":-0.22},{"t":9.825,"v":0.01},{"t":9.875,"v":-0.18}]
},
"vconcat":[
{"hconcat":[
{"width":871,"height":685,"title":"Yaw of Elcomat 3000",
"encoding":{
"x":{"field":"t","type":"quantitative","scale":{"domain":[0,10],"nice":false},"axis":{"values":[0,2,4,6,8,10],"format":"d","title":["Time (min)","(a)"]}},
"y":{"field":"v","type":"quantitative","scale":{"domain":[-0.1,0.7],"nice":false,"zero":false},"axis":{"values":[-0.1,0,0.1,0.2,0.3,0.4,0.5,0.6,0.7],"format":".1~f","title":"Measurement (arcsec)","titleX":-107}}},
"layer":[
{"data":{"name":"a"},"mark":{"type":"line","strokeWidth":1.2},"encoding":{"color":{"datum":"Elcomat 3000","type":"nominal","scale":{"domain":["Elcomat 3000","Autocollimator setup"],"range":["#0000ff","#ff0000"]},"legend":{"title":null}}}},
{"data":{"name":"a2"},"mark":{"type":"line","strokeWidth":1.6},"encoding":{"color":{"datum":"Elcomat 3000","type":"nominal","scale":{"domain":["Elcomat 3000","Autocollimator setup"],"range":["#0000ff","#ff0000"]},"legend":{"title":null}}}},
{"data":{"values":[{"t":4.5,"t2":9.8,"v":0.69},{"t":0,"t2":5.4,"v":-0.09}]},"mark":{"type":"rule","color":"#404040","strokeDash":[12,7],"strokeWidth":2},"encoding":{"x2":{"field":"t2"}}},
{"data":{"values":[{"t":4.75,"v":-0.09,"v2":0.69}]},"mark":{"type":"rule","color":"#008000","strokeWidth":4},"encoding":{"y2":{"field":"v2"}}},
{"data":{"values":[{"t":4.75,"v":0.69}]},"mark":{"type":"point","shape":"M0,0L-0.6,2L0.6,2Z","filled":true,"color":"#008000","size":1225,"opacity":1}},
{"data":{"values":[{"t":4.75,"v":-0.09}]},"mark":{"type":"point","shape":"M0,0L-0.6,-2L0.6,-2Z","filled":true,"color":"#008000","size":1225,"opacity":1}},
{"data":{"values":[{"t":5.02,"v":0.113,"label":"0.86 arcsec"}]},"mark":{"type":"text","font":"Liberation Serif","fontSize":53,"align":"left","baseline":"middle","color":"#000"},"encoding":{"text":{"field":"label"}}}
]},
{"width":871,"height":685,"title":"Pitch of Elcomat 3000",
"encoding":{
"x":{"field":"t","type":"quantitative","scale":{"domain":[0,10],"nice":false},"axis":{"values":[0,2,4,6,8,10],"format":"d","title":["Time (min)","(b)"]}},
"y":{"field":"v","type":"quantitative","scale":{"domain":[-0.2,0.4],"nice":false,"zero":false},"axis":{"values":[-0.2,-0.1,0,0.1,0.2,0.3,0.4],"format":".1~f","title":"Measurement (arcsec)","titleX":-85}}},
"layer":[
{"data":{"name":"b"},"mark":{"type":"line","strokeWidth":1.2},"encoding":{"color":{"datum":"Elcomat 3000","type":"nominal","scale":{"domain":["Elcomat 3000","Autocollimator setup"],"range":["#0000ff","#ff0000"]},"legend":{"title":null}}}},
{"data":{"name":"b2"},"mark":{"type":"line","strokeWidth":1.6},"encoding":{"color":{"datum":"Elcomat 3000","type":"nominal","scale":{"domain":["Elcomat 3000","Autocollimator setup"],"range":["#0000ff","#ff0000"]},"legend":{"title":null}}}},
{"data":{"values":[{"t":4.25,"t2":9.6,"v":0.39},{"t":4.25,"t2":9.6,"v":-0.097}]},"mark":{"type":"rule","color":"#404040","strokeDash":[12,7],"strokeWidth":2},"encoding":{"x2":{"field":"t2"}}},
{"data":{"values":[{"t":6,"v":-0.097,"v2":0.39}]},"mark":{"type":"rule","color":"#008000","strokeWidth":4},"encoding":{"y2":{"field":"v2"}}},
{"data":{"values":[{"t":6,"v":0.39}]},"mark":{"type":"point","shape":"M0,0L-0.6,2L0.6,2Z","filled":true,"color":"#008000","size":1225,"opacity":1}},
{"data":{"values":[{"t":6,"v":-0.097}]},"mark":{"type":"point","shape":"M0,0L-0.6,-2L0.6,-2Z","filled":true,"color":"#008000","size":1225,"opacity":1}},
{"data":{"values":[{"t":2.97,"v":0.297,"label":"0.52 arcsec"}]},"mark":{"type":"text","font":"Liberation Serif","fontSize":53,"align":"left","baseline":"middle","color":"#000"},"encoding":{"text":{"field":"label"}}}
]}
],"spacing":56},
{"hconcat":[
{"width":871,"height":685,"title":"Yaw of Autocollimator setup",
"encoding":{
"x":{"field":"t","type":"quantitative","scale":{"domain":[0,10],"nice":false},"axis":{"values":[0,2,4,6,8,10],"format":"d","title":["Time (min)","(c)"]}},
"y":{"field":"v","type":"quantitative","scale":{"domain":[-1.2,0.4],"nice":false,"zero":false},"axis":{"values":[-1.2,-1,-0.8,-0.6,-0.4,-0.2,0,0.2,0.4],"format":".1~f","title":"Measurement (arcsec)","titleX":-108}}},
"layer":[
{"data":{"name":"c"},"mark":{"type":"line","strokeWidth":1.6},"encoding":{"color":{"datum":"Autocollimator setup","type":"nominal","scale":{"domain":["Elcomat 3000","Autocollimator setup"],"range":["#0000ff","#ff0000"]},"legend":{"title":null}}}},
{"data":{"name":"c2"},"mark":{"type":"line","strokeWidth":2.4},"encoding":{"color":{"datum":"Autocollimator setup","type":"nominal","scale":{"domain":["Elcomat 3000","Autocollimator setup"],"range":["#0000ff","#ff0000"]},"legend":{"title":null}}}},
{"data":{"values":[{"t":0,"t2":5.45,"v":0.2},{"t":4.6,"t2":9.9,"v":-1.05}]},"mark":{"type":"rule","color":"#404040","strokeDash":[12,7],"strokeWidth":2},"encoding":{"x2":{"field":"t2"}}},
{"data":{"values":[{"t":4.76,"v":-1.05,"v2":0.2}]},"mark":{"type":"rule","color":"#008000","strokeWidth":4},"encoding":{"y2":{"field":"v2"}}},
{"data":{"values":[{"t":4.76,"v":0.2}]},"mark":{"type":"point","shape":"M0,0L-0.6,2L0.6,2Z","filled":true,"color":"#008000","size":1225,"opacity":1}},
{"data":{"values":[{"t":4.76,"v":-1.05}]},"mark":{"type":"point","shape":"M0,0L-0.6,-2L0.6,-2Z","filled":true,"color":"#008000","size":1225,"opacity":1}},
{"data":{"values":[{"t":1.81,"v":-0.894,"label":"1.37 arcsec"}]},"mark":{"type":"text","font":"Liberation Serif","fontSize":53,"align":"left","baseline":"middle","color":"#000"},"encoding":{"text":{"field":"label"}}}
]},
{"width":871,"height":685,"title":"Pitch of Autocollimator setup",
"encoding":{
"x":{"field":"t","type":"quantitative","scale":{"domain":[0,10],"nice":false},"axis":{"values":[0,2,4,6,8,10],"format":"d","title":["Time (min)","(d)"]}},
"y":{"field":"v","type":"quantitative","scale":{"domain":[-0.6,0.6],"nice":false,"zero":false},"axis":{"values":[-0.6,-0.4,-0.2,0,0.2,0.4,0.6],"format":".1~f","title":"Measurement (arcsec)","titleX":-91}}},
"layer":[
{"data":{"name":"d"},"mark":{"type":"line","strokeWidth":1.6},"encoding":{"color":{"datum":"Autocollimator setup","type":"nominal","scale":{"domain":["Elcomat 3000","Autocollimator setup"],"range":["#0000ff","#ff0000"]},"legend":{"title":null}}}},
{"data":{"name":"d2"},"mark":{"type":"line","strokeWidth":2.4},"encoding":{"color":{"datum":"Autocollimator setup","type":"nominal","scale":{"domain":["Elcomat 3000","Autocollimator setup"],"range":["#0000ff","#ff0000"]},"legend":{"title":null}}}},
{"data":{"values":[{"t":0.6,"t2":5.95,"v":0.5},{"t":0.6,"t2":5.95,"v":-0.4}]},"mark":{"type":"rule","color":"#404040","strokeDash":[12,7],"strokeWidth":2},"encoding":{"x2":{"field":"t2"}}},
{"data":{"values":[{"t":4.95,"v":-0.4,"v2":0.5}]},"mark":{"type":"rule","color":"#008000","strokeWidth":4},"encoding":{"y2":{"field":"v2"}}},
{"data":{"values":[{"t":4.95,"v":0.5}]},"mark":{"type":"point","shape":"M0,0L-0.6,2L0.6,2Z","filled":true,"color":"#008000","size":1225,"opacity":1}},
{"data":{"values":[{"t":4.95,"v":-0.4}]},"mark":{"type":"point","shape":"M0,0L-0.6,-2L0.6,-2Z","filled":true,"color":"#008000","size":1225,"opacity":1}},
{"data":{"values":[{"t":5.19,"v":0.39,"label":"0.94 arcsec"}]},"mark":{"type":"text","font":"Liberation Serif","fontSize":53,"align":"left","baseline":"middle","color":"#000"},"encoding":{"text":{"field":"label"}}}
]}
],"spacing":56}
],
"spacing":15,
"config":{
"font":"Liberation Serif",
"view":{"stroke":null},
"title":{"font":"Liberation Serif","fontSize":80,"fontWeight":"normal","color":"#000","anchor":"middle","frame":"group","offset":8,"baseline":"alphabetic","dx":-21},
"axis":{"grid":false,"domainColor":"#808080","domainWidth":1.5,"tickColor":"#808080","tickWidth":1.5,"tickSize":-7,"labelFont":"Liberation Sans","labelFontSize":25,"labelColor":"#404040","titleFont":"Liberation Serif","titleFontSize":53,"titleFontWeight":"normal","titleColor":"#000","labelFlush":false,"labelOverlap":false},
"axisX":{"labelPadding":24,"titleX":413,"titleY":68,"titleBaseline":"top","titleLineHeight":58,"titleAlign":"center"},
"axisY":{"labelPadding":20,"titleY":354,"titleBaseline":"middle","titleAngle":-90,"titleAlign":"center"},
"legend":{"orient":"none","legendX":-3,"legendY":1876,"strokeColor":"#333","strokeWidth":2.5,"fillColor":"#fff","padding":14,"symbolType":"M-2.5,0H2.5","symbolSize":2025,"symbolStrokeWidth":2.5,"symbolOffset":59.5,"labelOffset":71.5,"labelFont":"Liberation Serif","labelFontSize":48,"labelColor":"#000","rowPadding":29,"labelLimit":0}
}
}
